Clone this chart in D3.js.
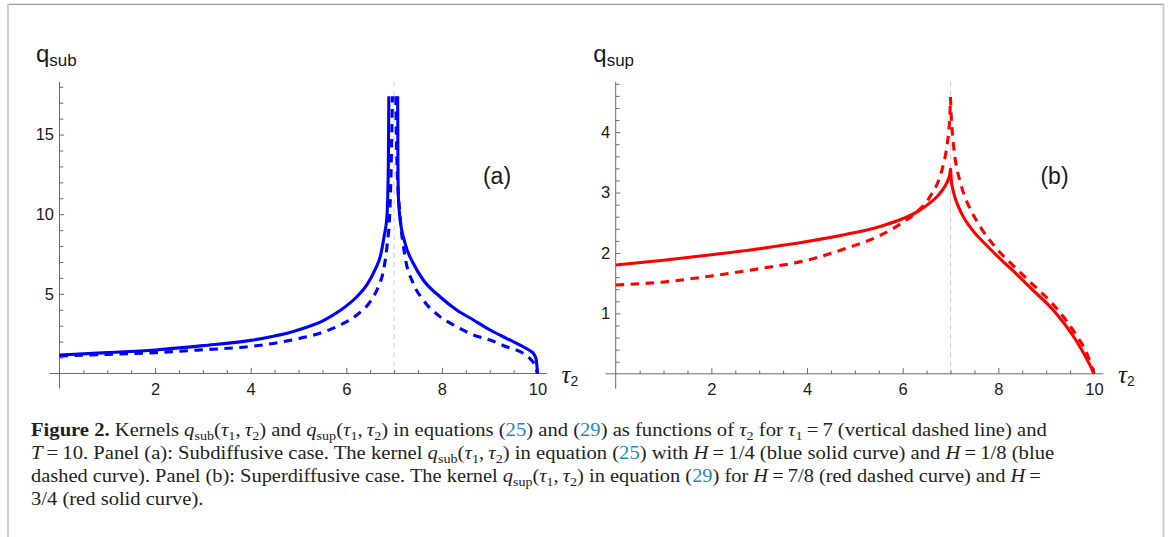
<!DOCTYPE html>
<html><head><meta charset="utf-8">
<script src="https://cdn.jsdelivr.net/npm/d3@7"></script>
<style>body{margin:0;background:#fff;} svg{display:block;}</style>
</head><body>
<svg id="c" width="1170" height="537"></svg>
<script>
// ---------------- data ----------------
const tau1 = 7;
const xMajorTicks = [2, 4, 6, 8, 10];
const subYMajorTicks = [5, 10, 15];
const supYMajorTicks = [1, 2, 3, 4];

// Panel (a) blue solid, H = 1/4  (null = curve leaves the plot range)
const tauSubSolid = [0, 1, 2, 3, 4, 4.5, 4.82, 5.17, 5.52, 5.87, 6.22, 6.43, 6.60, 6.71, 6.79, 6.85, 6.88, 6.89, 7,
  7.075, 7.08, 7.09, 7.12, 7.23, 7.40, 7.61, 7.96, 8.31, 8.66, 9.01, 9.35, 9.70, 9.85, 9.93, 9.975, 10];
const qSubSolid = [1.16, 1.31, 1.48, 1.75, 2.08, 2.36, 2.58, 2.90, 3.32, 3.95, 4.82, 5.56, 6.5, 7.33, 8.59, 9.84, 13.2, 17.4, null,
  17.4, 13.2, 11.1, 9.84, 8.17, 6.92, 5.87, 4.82, 3.99, 3.36, 2.73, 2.21, 1.68, 1.42, 1.2, 0.85, 0];

// Panel (a) blue dashed, H = 1/8
const tauSubDashed = [0, 1, 2, 3, 4, 4.82, 5.52, 5.87, 6.22, 6.50, 6.67, 6.78, 6.85, 6.91, 6.94, 6.965, 7,
  7.035, 7.06, 7.12, 7.23, 7.40, 7.61, 7.96, 8.31, 8.66, 9.01, 9.35, 9.70, 9.84, 9.94, 10];
const qSubDashed = [1.10, 1.20, 1.31, 1.49, 1.70, 2.08, 2.60, 3.04, 3.67, 4.51, 5.45, 6.5, 7.96, 10.1, 13.2, 17.4, null,
  17.4, 13.2, 10.06, 7.33, 5.66, 4.61, 3.57, 2.94, 2.42, 2.10, 1.68, 1.27, 0.95, 0.55, 0];

// Panel (b) red solid, H = 3/4
const tauSupSolid = [0, 1, 2, 3, 4, 4.83, 5.53, 6.01, 6.3, 6.57, 6.75, 6.88, 6.95, 6.985, 7,
  7.02, 7.05, 7.1, 7.17, 7.26, 7.4, 7.54, 7.75, 7.99, 8.3, 8.65, 9.21, 9.62, 9.86, 10];
const qSupSolid = [1.80, 1.88, 1.97, 2.07, 2.19, 2.31, 2.44, 2.57, 2.68, 2.83, 2.96, 3.10, 3.21, 3.30, 3.40,
  3.18, 3.05, 2.90, 2.76, 2.61, 2.44, 2.30, 2.13, 1.94, 1.71, 1.44, 1.00, 0.56, 0.23, 0];

// Panel (b) red dashed, H = 7/8
const tauSupDashed = [0, 1, 2, 3, 4, 4.83, 5.53, 6.01, 6.3, 6.57, 6.75, 6.85, 6.92, 6.96, 6.985, 7,
  7.015, 7.04, 7.08, 7.14, 7.2, 7.3, 7.45, 7.65, 7.99, 8.3, 8.65, 9.21, 9.62, 9.86, 10];
const qSupDashed = [1.47, 1.52, 1.62, 1.74, 1.88, 2.08, 2.29, 2.51, 2.68, 2.93, 3.20, 3.46, 3.74, 4.00, 4.25, 4.58,
  4.25, 3.98, 3.66, 3.37, 3.18, 2.93, 2.67, 2.40, 2.05, 1.80, 1.53, 1.09, 0.65, 0.32, 0];

// ---------------- drawing ----------------
const svg = d3.select("#c");
const AX = "#6b6b6b";
const SANS = "'Liberation Sans', Arial, sans-serif";
const SERIF = "'Liberation Serif', 'Times New Roman', serif";

// page frame
svg.append("line").attr("x1", 8).attr("x2", 1164).attr("y1", 4.3).attr("y2", 4.3)
  .attr("stroke", "#9a9a9a").attr("stroke-width", 1.3);
svg.append("line").attr("x1", 8).attr("x2", 8).attr("y1", 4).attr("y2", 537)
  .attr("stroke", "#cfcfcf").attr("stroke-width", 2);
svg.append("line").attr("x1", 1163.5).attr("x2", 1163.5).attr("y1", 4).attr("y2", 537)
  .attr("stroke", "#cfcfcf").attr("stroke-width", 2);

function splitSegments(tau, q) {
  const segs = [];
  let cur = [];
  tau.forEach((t, i) => {
    if (q[i] == null) { if (cur.length) segs.push(cur); cur = []; return; }
    cur.push([t, q[i]]);
    if (t === tau1 && i > 0 && i < tau.length - 1) { segs.push(cur); cur = [[t, q[i]]]; }
  });
  if (cur.length) segs.push(cur);
  return segs;
}

function panel(o) {
  const g = svg.append("g");
  const x = d3.scaleLinear().domain([0, 10]).range([o.xl, o.xr]);
  const y = d3.scaleLinear().domain([0, o.yTop]).range([o.yb, 82]);

  // vertical dashed line at tau1
  g.append("line").attr("x1", x(tau1)).attr("x2", x(tau1)).attr("y1", 82).attr("y2", y(0))
    .attr("stroke", "#cdcdcd").attr("stroke-width", 1).attr("stroke-dasharray", "5,4");

  // axes lines
  g.append("line").attr("x1", x(0) - 10).attr("x2", x(10) + 9.5).attr("y1", y(0)).attr("y2", y(0))
    .attr("stroke", AX).attr("stroke-width", 1);
  g.append("line").attr("x1", x(0)).attr("x2", x(0)).attr("y1", y(0) + 15).attr("y2", 82)
    .attr("stroke", AX).attr("stroke-width", 1);

  // x ticks
  const xMinor = d3.range(1, 21).map(d => d / 2).filter(d => xMajorTicks.indexOf(d) < 0);
  const xa = g.append("g").attr("transform", `translate(0,${y(0)})`)
    .call(d3.axisBottom(x).tickValues(xMajorTicks).tickFormat(d3.format("d")).tickSize(-5.7).tickSizeOuter(0).tickPadding(9.8));
  const xm = g.append("g").attr("transform", `translate(0,${y(0)})`)
    .call(d3.axisBottom(x).tickValues(xMinor).tickSize(-3.4).tickSizeOuter(0).tickFormat(""));
  // y ticks
  const ya = g.append("g").attr("transform", `translate(${x(0)},0)`)
    .call(d3.axisLeft(y).tickValues(o.yMajor).tickFormat(d3.format("d")).tickSize(-4.7).tickSizeOuter(0).tickPadding(5.5));
  const ym = g.append("g").attr("transform", `translate(${x(0)},0)`)
    .call(d3.axisLeft(y).tickValues(o.yMinor).tickSize(-3.8).tickSizeOuter(0).tickFormat(""));
  [xa, xm, ya, ym].forEach(a => {
    a.select(".domain").remove();
    a.selectAll("line").attr("stroke", AX).attr("stroke-width", 1);
    a.selectAll("text").attr("font-family", SANS).attr("font-size", 16.5).attr("fill", "#1a1a1a");
  });

  // curves
  const line = d3.line().x(d => x(d[0])).y(d => y(d[1])).curve(d3.curveMonotoneX);
  o.series.forEach(s => {
    splitSegments(s.tau, s.q).forEach(seg => {
      g.append("path").attr("d", line(seg)).attr("fill", "none")
        .attr("stroke", s.color).attr("stroke-width", 3.1)
        .attr("stroke-dasharray", s.dashed ? "8.5,6.5" : null);
    });
  });

  // axis labels
  const yl = g.append("text").attr("x", o.qx).attr("y", 62.3).attr("font-family", SANS).attr("fill", "#1a1a1a");
  yl.append("tspan").attr("font-size", 24).text("q");
  yl.append("tspan").attr("font-size", 17).attr("dy", 3.4).text(o.sub);

  const xl = g.append("text").attr("x", x(10) + 24).attr("y", 383.3).attr("fill", "#1a1a1a");
  xl.append("tspan").attr("font-family", SERIF).attr("font-style", "italic").attr("font-size", 25).text("τ");
  xl.append("tspan").attr("font-family", SANS).attr("font-size", 14).attr("dy", 3).text("2");

  g.append("text").attr("x", o.tagX).attr("y", 183.5).attr("text-anchor", "middle")
    .attr("font-family", SANS).attr("font-size", 23).attr("fill", "#1a1a1a").text(o.tag);
}

panel({
  xl: 59.5, xr: 537.5, yb: 373.5, yTop: 18.3,
  yMajor: subYMajorTicks,
  yMinor: d3.range(1, 19).filter(d => d % 5 !== 0),
  series: [
    { tau: tauSubSolid, q: qSubSolid, color: "#0000ff", dashed: false },
    { tau: tauSubDashed, q: qSubDashed, color: "#0000ff", dashed: true }
  ],
  qx: 36, sub: "sub", tag: "(a)", tagX: 497
});
panel({
  xl: 615.7, xr: 1094, yb: 373.8, yTop: 4.83,
  yMajor: supYMajorTicks,
  yMinor: d3.range(1, 25).map(d => d / 5).filter(d => Math.abs(d - Math.round(d)) > 1e-9),
  series: [
    { tau: tauSupSolid, q: qSupSolid, color: "#ff0000", dashed: false },
    { tau: tauSupDashed, q: qSupDashed, color: "#ff0000", dashed: true }
  ],
  qx: 593.3, sub: "sup", tag: "(b)", tagX: 1054.5
});

// ---------------- caption ----------------
const TS = "\u2009";
const tau12 = [["(", "n"], ["τ", "i"], ["1", "s"], ["," + TS, "n"], ["τ", "i"], ["2", "s"], [")", "n"]];
const EQ = TS + "=" + TS;
const capLines = [
  [["Figure 2.", "b"], [" Kernels ", "n"], ["q", "i"], ["sub", "s"], ...tau12, [" and ", "n"], ["q", "i"], ["sup", "s"], ...tau12,
   [" in equations (", "n"], ["25", "l"], [") and (", "n"], ["29", "l"], [") as functions of ", "n"], ["τ", "i"], ["2", "s"],
   [" for ", "n"], ["τ", "i"], ["1", "s"], [EQ + "7 (vertical dashed line) and", "n"]],
  [["T", "i"], [EQ + "10. Panel (a): Subdiffusive case. The kernel ", "n"], ["q", "i"], ["sub", "s"], ...tau12,
   [" in equation (", "n"], ["25", "l"], [") with ", "n"], ["H", "i"], [EQ + "1/4 (blue solid curve) and ", "n"], ["H", "i"], [EQ + "1/8 (blue", "n"]],
  [["dashed curve). Panel (b): Superdiffusive case. The kernel ", "n"], ["q", "i"], ["sup", "s"], ...tau12,
   [" in equation (", "n"], ["29", "l"], [") for ", "n"], ["H", "i"], [EQ + "7/8 (red dashed curve) and ", "n"], ["H", "i"], [EQ, "n"]],
  [["3/4 (red solid curve).", "n"]]
];
const capBase = [435.5, 458.8, 482.1, 505.4];
const capRight = [1047, 1055, 1045, null];
const scales = [];
const texts = [];
capLines.forEach((segs, li) => {
  const t = svg.append("text").attr("x", 0).attr("y", 0)
    .attr("font-family", SERIF).attr("font-size", 18.2).attr("fill", "#231f20")
    .style("white-space", "pre");
  let shift = 0;
  segs.forEach(([txt, k]) => {
    const want = k === "s" ? 4 : 0;
    const ts = t.append("tspan").text(txt);
    if (want !== shift) ts.attr("dy", want - shift);
    shift = want;
    if (k === "b") ts.attr("font-weight", "bold");
    if (k === "i") ts.attr("font-style", "italic");
    if (k === "s") ts.attr("font-size", 12.5);
    if (k === "l") ts.attr("fill", "#2a86c6");
  });
  texts.push(t);
  if (capRight[li] != null) {
    const w = t.node().getComputedTextLength();
    scales.push((capRight[li] - 31) / w);
  }
});
const meanScale = d3.mean(scales);
texts.forEach((t, li) => {
  const sx = capRight[li] != null ? scales[li] : meanScale;
  t.attr("transform", `translate(31,${capBase[li]}) scale(${sx},1)`);
});
</script>
</body></html>
